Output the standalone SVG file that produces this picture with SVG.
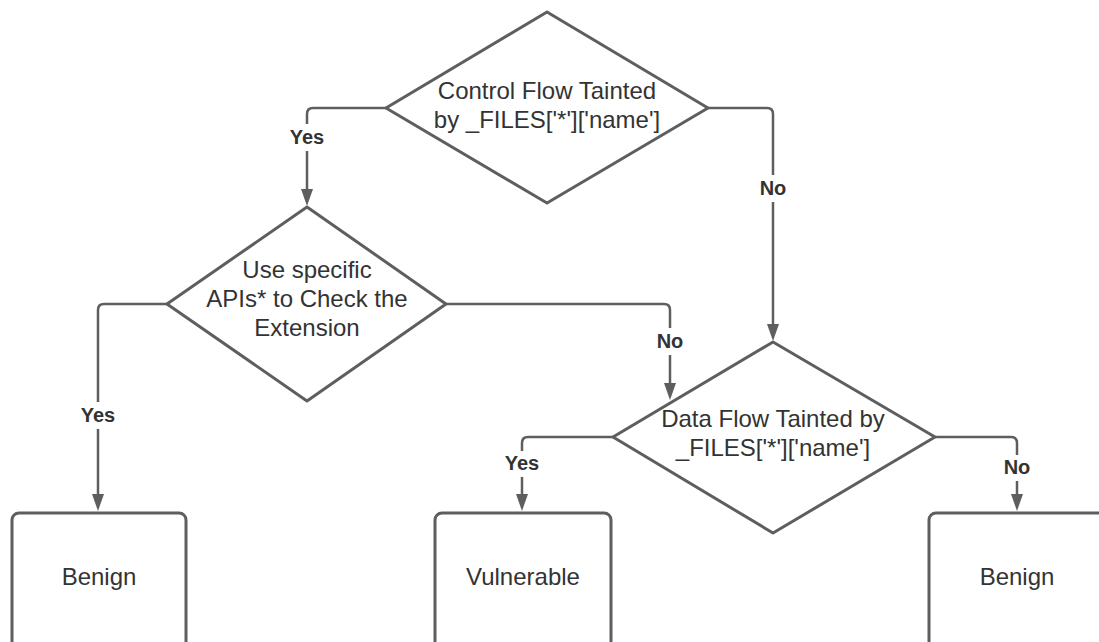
<svg xmlns="http://www.w3.org/2000/svg" width="1099" height="642" viewBox="0 0 1099 642">
<style>
.shape{fill:#fff;stroke:#5e5e5e;stroke-width:3;stroke-linejoin:round}
.t{font-family:"Liberation Sans",Arial,sans-serif;font-size:24px;fill:#333;text-anchor:middle}
.lbl{font-family:"Liberation Sans",Arial,sans-serif;font-size:20px;font-weight:bold;fill:#333;text-anchor:middle}
.c{fill:none;stroke:#5e5e5e;stroke-width:2.5;stroke-linejoin:round}
.ah{fill:#5e5e5e}
</style>
<rect width="1099" height="642" fill="#fff"/>
<g id="connectors">
<path class="c" d="M386,108 H313 Q307,108 307,114 V124"/>
<path class="c" d="M307,151 V190"/>
<path class="ah" d="M301,189 L313,189 L307,206 Z"/>
<text class="lbl" x="307" y="144">Yes</text>

<path class="c" d="M708,108 H767 Q773,108 773,114 V175"/>
<path class="c" d="M773,202 V325"/>
<path class="ah" d="M767,324 L779,324 L773,341 Z"/>
<text class="lbl" x="773" y="195">No</text>

<path class="c" d="M446,304 H664 Q670,304 670,310 V328"/>
<path class="c" d="M670,355 V384"/>
<path class="ah" d="M664,383 L676,383 L670,400 Z"/>
<text class="lbl" x="670" y="348">No</text>

<path class="c" d="M167,304 H104 Q98,304 98,310 V402"/>
<path class="c" d="M98,429 V495"/>
<path class="ah" d="M92,494 L104,494 L98,511 Z"/>
<text class="lbl" x="98" y="422">Yes</text>

<path class="c" d="M613,437 H528 Q522,437 522,443 V451"/>
<path class="c" d="M522,477 V495"/>
<path class="ah" d="M516,494 L528,494 L522,511 Z"/>
<text class="lbl" x="522" y="470">Yes</text>

<path class="c" d="M935,437 H1011 Q1017,437 1017,443 V455"/>
<path class="c" d="M1017,481 V495"/>
<path class="ah" d="M1011,494 L1023,494 L1017,511 Z"/>
<text class="lbl" x="1017" y="474">No</text>
</g>
<g id="d1">
<polygon class="shape" points="547,12 708,108 547,203 386,108"/>
<text class="t" x="547" y="99">Control Flow Tainted</text>
<text class="t" x="547" y="128">by _FILES['*']['name']</text>
</g>
<g id="d2">
<polygon class="shape" points="307,207 446,304 307,401 167,304"/>
<text class="t" x="307" y="278">Use specific</text>
<text class="t" x="307" y="307">APIs* to Check the</text>
<text class="t" x="307" y="336">Extension</text>
</g>
<g id="d3">
<polygon class="shape" points="773,342 935,437 773,533 613,437"/>
<text class="t" x="773" y="427">Data Flow Tainted by</text>
<text class="t" x="773" y="456">_FILES['*']['name']</text>
</g>
<g id="b1">
<rect class="shape" x="12" y="513" width="174" height="145" rx="7"/>
<text class="t" x="99" y="585">Benign</text>
</g>
<g id="b2">
<rect class="shape" x="435" y="513" width="176" height="145" rx="7"/>
<text class="t" x="523" y="585">Vulnerable</text>
</g>
<g id="b3">
<rect class="shape" x="929" y="513" width="176" height="145" rx="7"/>
<text class="t" x="1017" y="585">Benign</text>
</g>
</svg>
